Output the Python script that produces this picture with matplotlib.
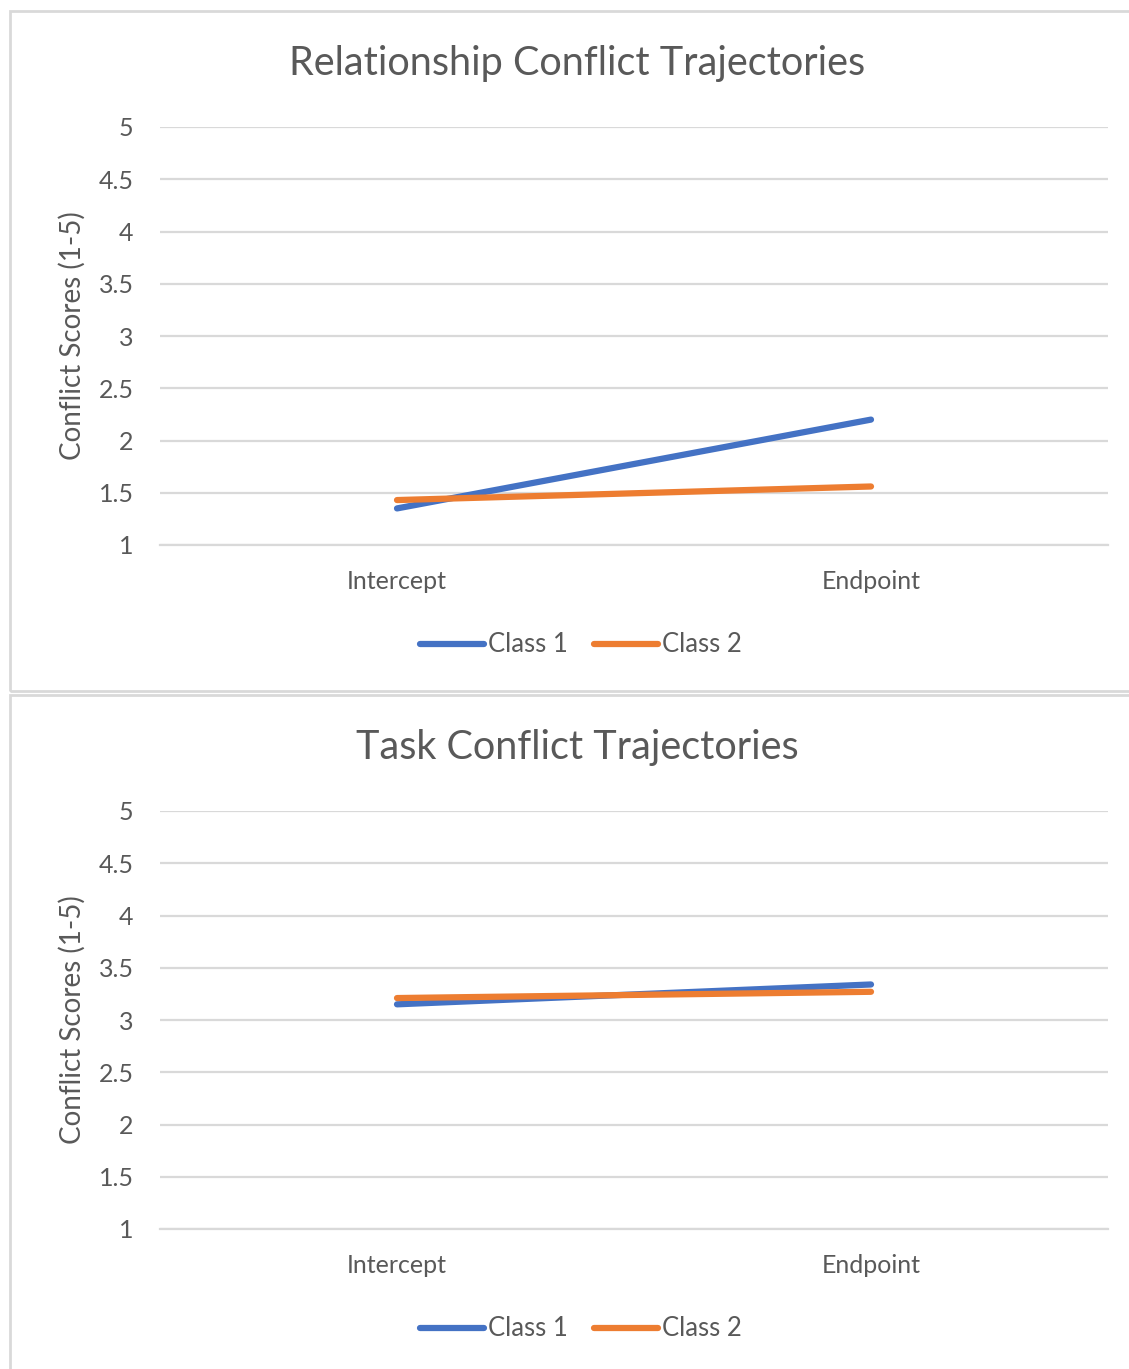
import matplotlib.pyplot as plt
from matplotlib.patches import Rectangle

plt.rcParams['font.family'] = ['Lato', 'DejaVu Sans']

categories = ["Intercept", "Endpoint"]
series_names = ["Class 1", "Class 2"]
colors = ["#4472C4", "#ED7D31"]

# relationship conflict
rel_class1 = [1.35, 2.20]
rel_class2 = [1.43, 1.56]
# task conflict
task_class1 = [3.15, 3.34]
task_class2 = [3.21, 3.27]

yticks = [1, 1.5, 2, 2.5, 3, 3.5, 4, 4.5, 5]
yticklabels = ["1", "1.5", "2", "2.5", "3", "3.5", "4", "4.5", "5"]

W, H = 1129, 1369
fig = plt.figure(figsize=(W / 100, H / 100), dpi=100)
grey = "#595959"
grid = "#d9d9d9"

# chart borders
fig.patches.append(Rectangle((10 / W, 1 - 691 / H), 1.2, (691 - 11) / H,
                             transform=fig.transFigure, fill=False,
                             edgecolor=grid, linewidth=2))
fig.patches.append(Rectangle((10 / W, -0.1), 1.2, 0.1 + 1 - 695 / H,
                             transform=fig.transFigure, fill=False,
                             edgecolor=grid, linewidth=2))


def draw(top_px, title, s1, s2, title_y, legend_y):
    ax = fig.add_axes([160 / W, 1 - (top_px + 418) / H, 948 / W, 418 / H])
    x = [0.5, 1.5]
    ax.plot(x, s1, color=colors[0], lw=4.5, solid_capstyle="round", label=series_names[0])
    ax.plot(x, s2, color=colors[1], lw=4.5, solid_capstyle="round", label=series_names[1])
    ax.set_xlim(0, 2)
    ax.set_ylim(1, 5)
    ax.set_xticks(x)
    ax.set_xticklabels(categories)
    ax.set_yticks(yticks)
    ax.set_yticklabels(yticklabels)
    ax.tick_params(axis="both", length=0, labelsize=18, colors=grey)
    ax.tick_params(axis="y", pad=19)
    ax.tick_params(axis="x", pad=18)
    ax.grid(axis="y", color=grid, linewidth=1.6)
    ax.set_axisbelow(True)
    for s in ["top", "right", "left"]:
        ax.spines[s].set_visible(False)
    ax.spines["bottom"].set_color(grid)
    ax.spines["bottom"].set_linewidth(1.6)
    ax.set_ylabel("Conflict Scores (1-5)", fontsize=20, color=grey)
    ax.yaxis.set_label_coords(-0.078, 0.5)
    fig.text(577 / W, 1 - title_y / H, title, fontsize=28.5, color=grey,
             ha="center", va="center")
    ax.legend(loc="center", bbox_to_anchor=(581 / W, 1 - legend_y / H),
              bbox_transform=fig.transFigure, ncol=2, frameon=False,
              fontsize=18.5, labelcolor=grey, handlelength=2.5,
              handletextpad=0.15, columnspacing=1.0)
    return ax


draw(127, "Relationship Conflict Trajectories", rel_class1, rel_class2, 63, 645)
draw(811, "Task Conflict Trajectories", task_class1, task_class2, 747, 1329)

plt.savefig("out.png", dpi=100)
